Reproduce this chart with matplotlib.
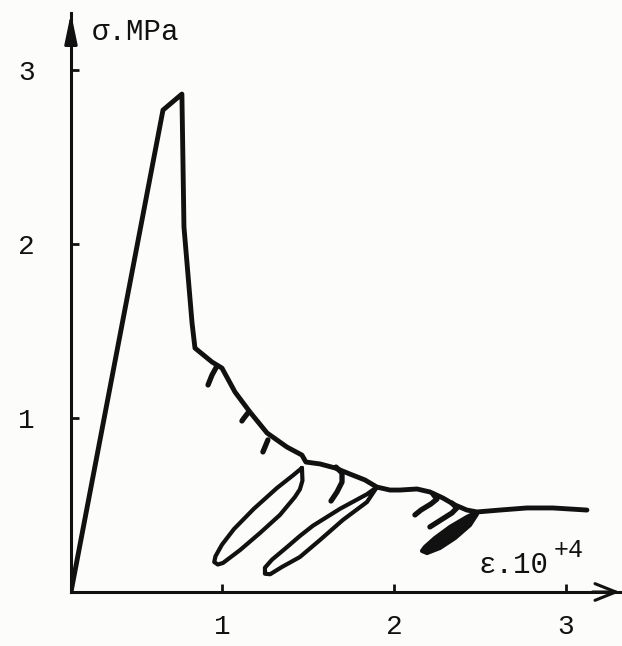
import matplotlib
matplotlib.use("Agg")
import matplotlib.pyplot as plt
import numpy as np

plt.rcParams['font.family'] = ['Liberation Mono', 'DejaVu Sans Mono']

# strain (x 1e-4) and stress (MPa) along the envelope
eps_main = [0.122, 0.657, 0.767, 0.773, 0.779, 0.826, 0.843, 0.942, 1.000, 1.076,
            1.163, 1.262, 1.378, 1.465, 1.488, 1.570, 1.657, 1.744, 1.831, 1.901,
            1.977, 2.035, 2.134, 2.209, 2.285, 2.355, 2.424, 2.483, 2.616, 2.773,
            2.924, 3.122]
sig_main = [0.000, 2.770, 2.862, 2.483, 2.098, 1.546, 1.402, 1.322, 1.287, 1.149,
            1.034, 0.914, 0.833, 0.787, 0.747, 0.736, 0.713, 0.678, 0.644, 0.603,
            0.586, 0.586, 0.592, 0.575, 0.540, 0.500, 0.471, 0.460, 0.471, 0.483,
            0.483, 0.471]

# short unloading branches
hooks_eps = [
    [0.971, 0.942, 0.919],
    [1.151, 1.128, 1.116],
    [1.267, 1.250, 1.238],
    [1.663, 1.698, 1.698, 1.669, 1.634],
    [2.227, 2.250, 2.215, 2.157, 2.122],
    [2.337, 2.366, 2.337, 2.273, 2.209],
]
hooks_sig = [
    [1.299, 1.247, 1.190],
    [1.029, 1.000, 0.983],
    [0.874, 0.833, 0.805],
    [0.718, 0.684, 0.632, 0.575, 0.523],
    [0.563, 0.534, 0.506, 0.471, 0.443],
    [0.511, 0.483, 0.454, 0.414, 0.374],
]

# unloading / reloading cycles
loops_eps = [
    [1.465, 1.468, 1.453, 1.424, 1.337, 1.221, 1.105, 1.006, 0.976, 0.955, 0.962,
     1.000, 1.070, 1.185, 1.320, 1.415, 1.465],
    [1.901, 1.843, 1.686, 1.529, 1.453, 1.378, 1.291, 1.250, 1.250, 1.280, 1.349,
     1.453, 1.570, 1.703, 1.843, 1.901],
    [2.483, 2.424, 2.326, 2.238, 2.180, 2.163, 2.192, 2.267, 2.355, 2.442, 2.483],
]
loops_sig = [
    [0.713, 0.640, 0.590, 0.546, 0.443, 0.339, 0.241, 0.167, 0.158, 0.172, 0.205,
     0.272, 0.362, 0.478, 0.598, 0.672, 0.713],
    [0.603, 0.562, 0.478, 0.381, 0.322, 0.258, 0.186, 0.140, 0.105, 0.102, 0.144,
     0.201, 0.299, 0.414, 0.517, 0.603],
    [0.460, 0.431, 0.374, 0.310, 0.259, 0.236, 0.224, 0.253, 0.310, 0.385, 0.448],
]
loop_filled = [False, False, True]

ticks = [1, 2, 3]

ink = '#111111'

fig = plt.figure(figsize=(6.22, 6.46), dpi=100, facecolor='#fcfcfb')
ax = fig.add_axes([0.1141, 0.0836, 0.8826, 0.8963])
ax.set_facecolor('none')

ax.plot(eps_main, sig_main, color=ink, lw=3.5, solid_joinstyle='round',
        solid_capstyle='round')
for he, hs in zip(hooks_eps, hooks_sig):
    ax.plot(he, hs, color=ink, lw=3.8, solid_capstyle='round', solid_joinstyle='round')
for le, ls, filled in zip(loops_eps, loops_sig, loop_filled):
    ax.plot(le, ls, color=ink, lw=3.0, solid_joinstyle='round', solid_capstyle='round')
    if filled:
        ax.fill(le, ls, color=ink)

ax.set_xlim(0.122, 3.314)
ax.set_ylim(0, 3.328)

for s in ['top', 'right']:
    ax.spines[s].set_visible(False)
for s in ['left', 'bottom']:
    ax.spines[s].set_linewidth(2.2)
    ax.spines[s].set_color(ink)

ax.set_xticks(ticks)
ax.set_yticks(ticks)
ax.set_xticklabels([str(t) for t in ticks])
ax.set_yticklabels([str(t) for t in ticks])
ax.tick_params(direction='in', length=6, width=2.0, color=ink, labelsize=20,
               labelcolor=ink)
ax.tick_params(axis='y', pad=26)
ax.tick_params(axis='x', pad=16)

# axis arrowheads
ax.annotate('', xy=(1.0, 0), xytext=(0.95, 0), xycoords='axes fraction',
            arrowprops=dict(arrowstyle='->, head_length=1.0, head_width=0.4',
                            lw=2.2, color=ink, mutation_scale=15,
                            shrinkA=0, shrinkB=0))
ax.annotate('', xy=(0, 1.0), xytext=(0, 0.95), xycoords='axes fraction',
            arrowprops=dict(arrowstyle='-|>, head_length=1.2, head_width=0.25',
                            lw=2.2, color=ink, mutation_scale=15,
                            shrinkA=0, shrinkB=0))

ax.text(0.244, 3.22, 'σ.MPa', fontsize=21, color=ink, ha='left', va='center')
ax.text(2.49, 0.11, 'ε.10', fontsize=21, color=ink, ha='left', va='baseline')
ax.text(2.93, 0.20, '+4', fontsize=18, color=ink, ha='left', va='baseline')

fig.savefig('out.png', dpi=100, facecolor=fig.get_facecolor())
